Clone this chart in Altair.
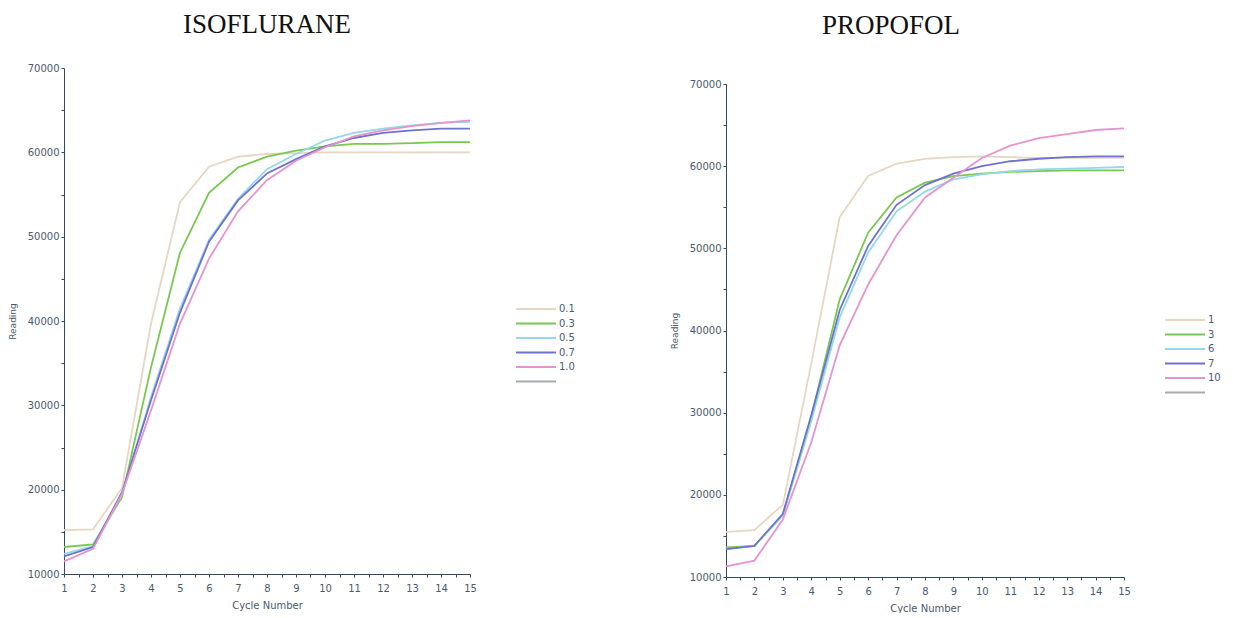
import altair as alt
import pandas as pd

cycles = list(range(1, 16))

iso_labels = ["0.1", "0.3", "0.5", "0.7", "1.0"]
iso_01 = [15200, 15300, 20200, 39700, 54100, 58300, 59500, 59800, 59900, 60000, 60000, 60000, 60000, 60000, 60000]
iso_03 = [13200, 13500, 19100, 34500, 48100, 55200, 58200, 59500, 60200, 60700, 61000, 61000, 61100, 61200, 61200]
iso_05 = [12400, 13300, 19400, 31000, 41500, 49600, 54500, 58000, 59800, 61400, 62300, 62800, 63200, 63500, 63600]
iso_07 = [12100, 13200, 19700, 30600, 41000, 49400, 54300, 57500, 59200, 60700, 61700, 62300, 62600, 62800, 62800]
iso_10 = [11500, 13000, 19500, 29400, 39700, 47400, 53000, 56700, 59000, 60600, 61900, 62600, 63100, 63500, 63800]

pro_labels = ["1", "3", "6", "7", "10"]
pro_1 = [15500, 15700, 18800, 36000, 53800, 58800, 60300, 60900, 61100, 61200, 61100, 61000, 61000, 61000, 61000]
pro_3 = [13600, 13800, 17500, 29500, 43800, 51900, 56200, 58000, 58800, 59100, 59300, 59400, 59500, 59500, 59500]
pro_6 = [13400, 13800, 17500, 29000, 41600, 49500, 54500, 56900, 58400, 59000, 59400, 59600, 59700, 59800, 59900]
pro_7 = [13400, 13800, 17700, 29700, 42500, 50300, 55300, 57700, 59100, 60000, 60600, 60900, 61100, 61200, 61200]
pro_10 = [11300, 12000, 17000, 26400, 38200, 45600, 51600, 56200, 58600, 61000, 62500, 63400, 63900, 64400, 64600]

colors = ["#e6d6c2", "#78c850", "#94d8ec", "#6f72cc", "#e693cf", "#a7aab0"]

y_ticks = list(range(10000, 70001, 5000))
x_ticks = [1 + 0.5 * i for i in range(29)]


def build(labels, series):
    rows = []
    for lab, vals in zip(labels, series):
        for c, v in zip(cycles, vals):
            rows.append({"cycle": c, "reading": v, "series": lab})
    return pd.DataFrame(rows)


axis_common = dict(
    domainColor="#34495e",
    tickColor="#34495e",
    labelColor="#4a5a6a",
    titleColor="#4a5a6a",
    labelFont="DejaVu Sans",
    titleFont="DejaVu Sans",
    labelFontSize=10,
    titleFontWeight="normal",
    tickSize=3,
    grid=False,
)


def panel(df, labels, title, w, h, top_gap, title_dx, title_offset, lx, ly):
    domain = labels + [""]
    return (
        alt.Chart(df)
        .mark_line(strokeWidth=1.8)
        .encode(
            x=alt.X(
                "cycle:Q",
                scale=alt.Scale(domain=[1, 15], nice=False),
                axis=alt.Axis(
                    title="Cycle Number",
                    values=x_ticks,
                    labelExpr="datum.value % 1 == 0 ? format(datum.value, 'd') : ''",
                    labelPadding=6,
                    titlePadding=7,
                    titleFontSize=10,
                    labelFlush=False,
                    **axis_common,
                ),
            ),
            y=alt.Y(
                "reading:Q",
                scale=alt.Scale(domain=[10000, 70000], nice=False, range=[h + top_gap, top_gap]),
                axis=alt.Axis(
                    title="Reading",
                    values=y_ticks,
                    labelExpr="datum.value % 10000 == 0 ? format(datum.value, 'd') : ''",
                    labelPadding=2,
                    titlePadding=10,
                    titleFontSize=9,
                    **axis_common,
                ),
            ),
            color=alt.Color(
                "series:N",
                scale=alt.Scale(domain=domain, range=colors),
                sort=domain,
                legend=alt.Legend(
                    title=None,
                    orient="none",
                    legendX=lx,
                    legendY=ly + top_gap,
                    symbolType="stroke",
                    symbolSize=1600,
                    symbolStrokeWidth=2,
                    clipHeight=12,
                    labelFont="DejaVu Sans",
                    labelFontSize=10,
                    labelColor="#4a5a70",
                    rowPadding=2.5,
                    labelOffset=2,
                ),
            ),
        )
        .properties(
            width=w,
            height=h + top_gap,
            title=alt.TitleParams(
                title,
                font="Liberation Serif",
                fontSize=27,
                fontWeight="normal",
                color="#111111",
                offset=title_offset,
                dx=title_dx,
                anchor="middle",
            ),
        )
    )


iso_df = build(iso_labels, [iso_01, iso_03, iso_05, iso_07, iso_10])
pro_df = build(pro_labels, [pro_1, pro_3, pro_6, pro_7, pro_10])

left = panel(iso_df, iso_labels, "ISOFLURANE", 406, 506, 0, 0, 24, 451, 235)
right = panel(pro_df, pro_labels, "PROPOFOL", 398, 493, 16, -34, 28, 438, 230)

chart = (
    alt.hconcat(left, right, spacing=95)
    .resolve_scale(color="independent", x="independent", y="independent")
    .properties(background="white", padding={"left": 0, "top": 3, "right": 4, "bottom": 0})
    .configure_view(stroke=None, strokeWidth=0)
)

chart.save("out.html", embed_options={"renderer": "svg", "actions": False})
